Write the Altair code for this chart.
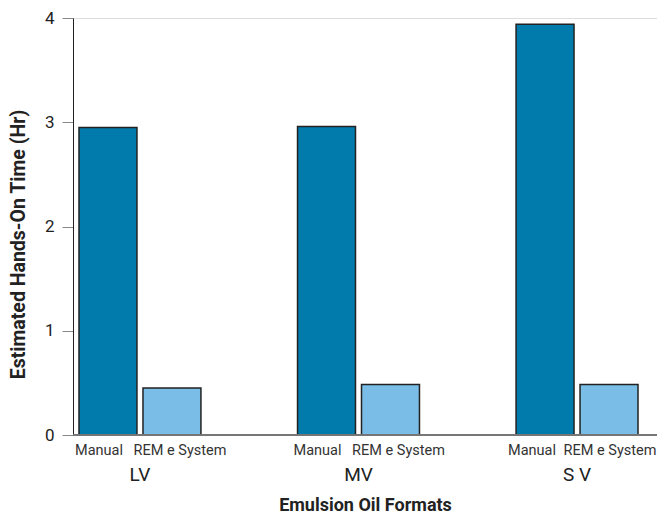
import altair as alt
import pandas as pd

formats = ["LV", "MV", "SV"]
methods = ["Manual", "REM e System"]
manual_hours = [2.95, 2.96, 3.94]
rem_hours = [0.45, 0.485, 0.485]

rows = []
for f, m_val, r_val in zip(formats, manual_hours, rem_hours):
    rows.append({"format": f, "method": methods[0], "hours": m_val})
    rows.append({"format": f, "method": methods[1], "hours": r_val})
df = pd.DataFrame(rows)

FONT = "Roboto, sans-serif"
W, H = 584, 417

x_enc = alt.X(
    "format:N",
    sort=formats,
    scale=alt.Scale(domain=formats, paddingInner=0.442, paddingOuter=0.0572, align=0.24),
    axis=alt.Axis(
        title="Emulsion Oil Formats",
        labelExpr="datum.value == 'SV' ? 'S V' : datum.value",
        labelAngle=0,
        labelFontSize=19,
        labelColor="#222",
        labelFont=FONT,
        labelPadding=30,
        ticks=False,
        domain=False,
        titleFontSize=18,
        titleFont=FONT,
        titleFontWeight="bold",
        titleColor="#222",
        titlePadding=12,
    ),
)
xoff = alt.XOffset("method:N", sort=methods,
                   scale=alt.Scale(domain=methods, paddingInner=0.094, paddingOuter=0))

bars = alt.Chart(df).mark_bar(stroke="#222", strokeWidth=1.5).encode(
    x=x_enc,
    xOffset=xoff,
    y=alt.Y(
        "hours:Q",
        scale=alt.Scale(domain=[0, 4], nice=False),
        axis=alt.Axis(
            values=[0, 1, 2, 3, 4],
            title="Estimated Hands-On Time (Hr)",
            titleFontSize=19.5,
            titleFont=FONT,
            titleFontWeight="bold",
            titleColor="#222",
            titlePadding=16,
            titleY=226,
            labelFontSize=17,
            labelFont=FONT,
            labelColor="#222",
            labelPadding=8,
            tickSize=11,
            tickColor="#888",
            domainColor="#222",
            grid=False,
        ),
    ),
    color=alt.Color("method:N", sort=methods,
                    scale=alt.Scale(domain=methods, range=["#007bab", "#7abde6"]),
                    legend=None),
)

baseline = alt.Chart(df).mark_rule(color="#777", strokeWidth=1.2).encode(
    x=alt.value(0), x2=alt.value(W), y=alt.value(H)
)


def method_labels(filter_expr, dx):
    return alt.Chart(df).transform_filter(filter_expr).mark_text(
        fontSize=14.5, font=FONT, color="#333", dx=dx, baseline="alphabetic"
    ).encode(x=alt.X("format:N", sort=formats), xOffset=xoff,
             y=alt.value(H + 20), text="method:N")


is_sv = alt.datum.format == "SV"
lab_manual = method_labels((alt.datum.method == methods[0]) & (alt.datum.format != "SV"), -9)
lab_manual_last = method_labels((alt.datum.method == methods[0]) & is_sv, -13)
lab_rem = method_labels((alt.datum.method == methods[1]) & (alt.datum.format != "SV"), 8)
lab_rem_last = method_labels((alt.datum.method == methods[1]) & is_sv, 1)

chart = alt.layer(bars, baseline, lab_manual, lab_manual_last, lab_rem, lab_rem_last).properties(
    width=W, height=H,
    autosize=alt.AutoSizeParams(type="none"),
    padding={"left": 65, "top": 10, "right": 0, "bottom": 78},
).configure_view(stroke=None).configure(font=FONT)

chart.save("out.html", embed_options={"renderer": "svg", "actions": False})
